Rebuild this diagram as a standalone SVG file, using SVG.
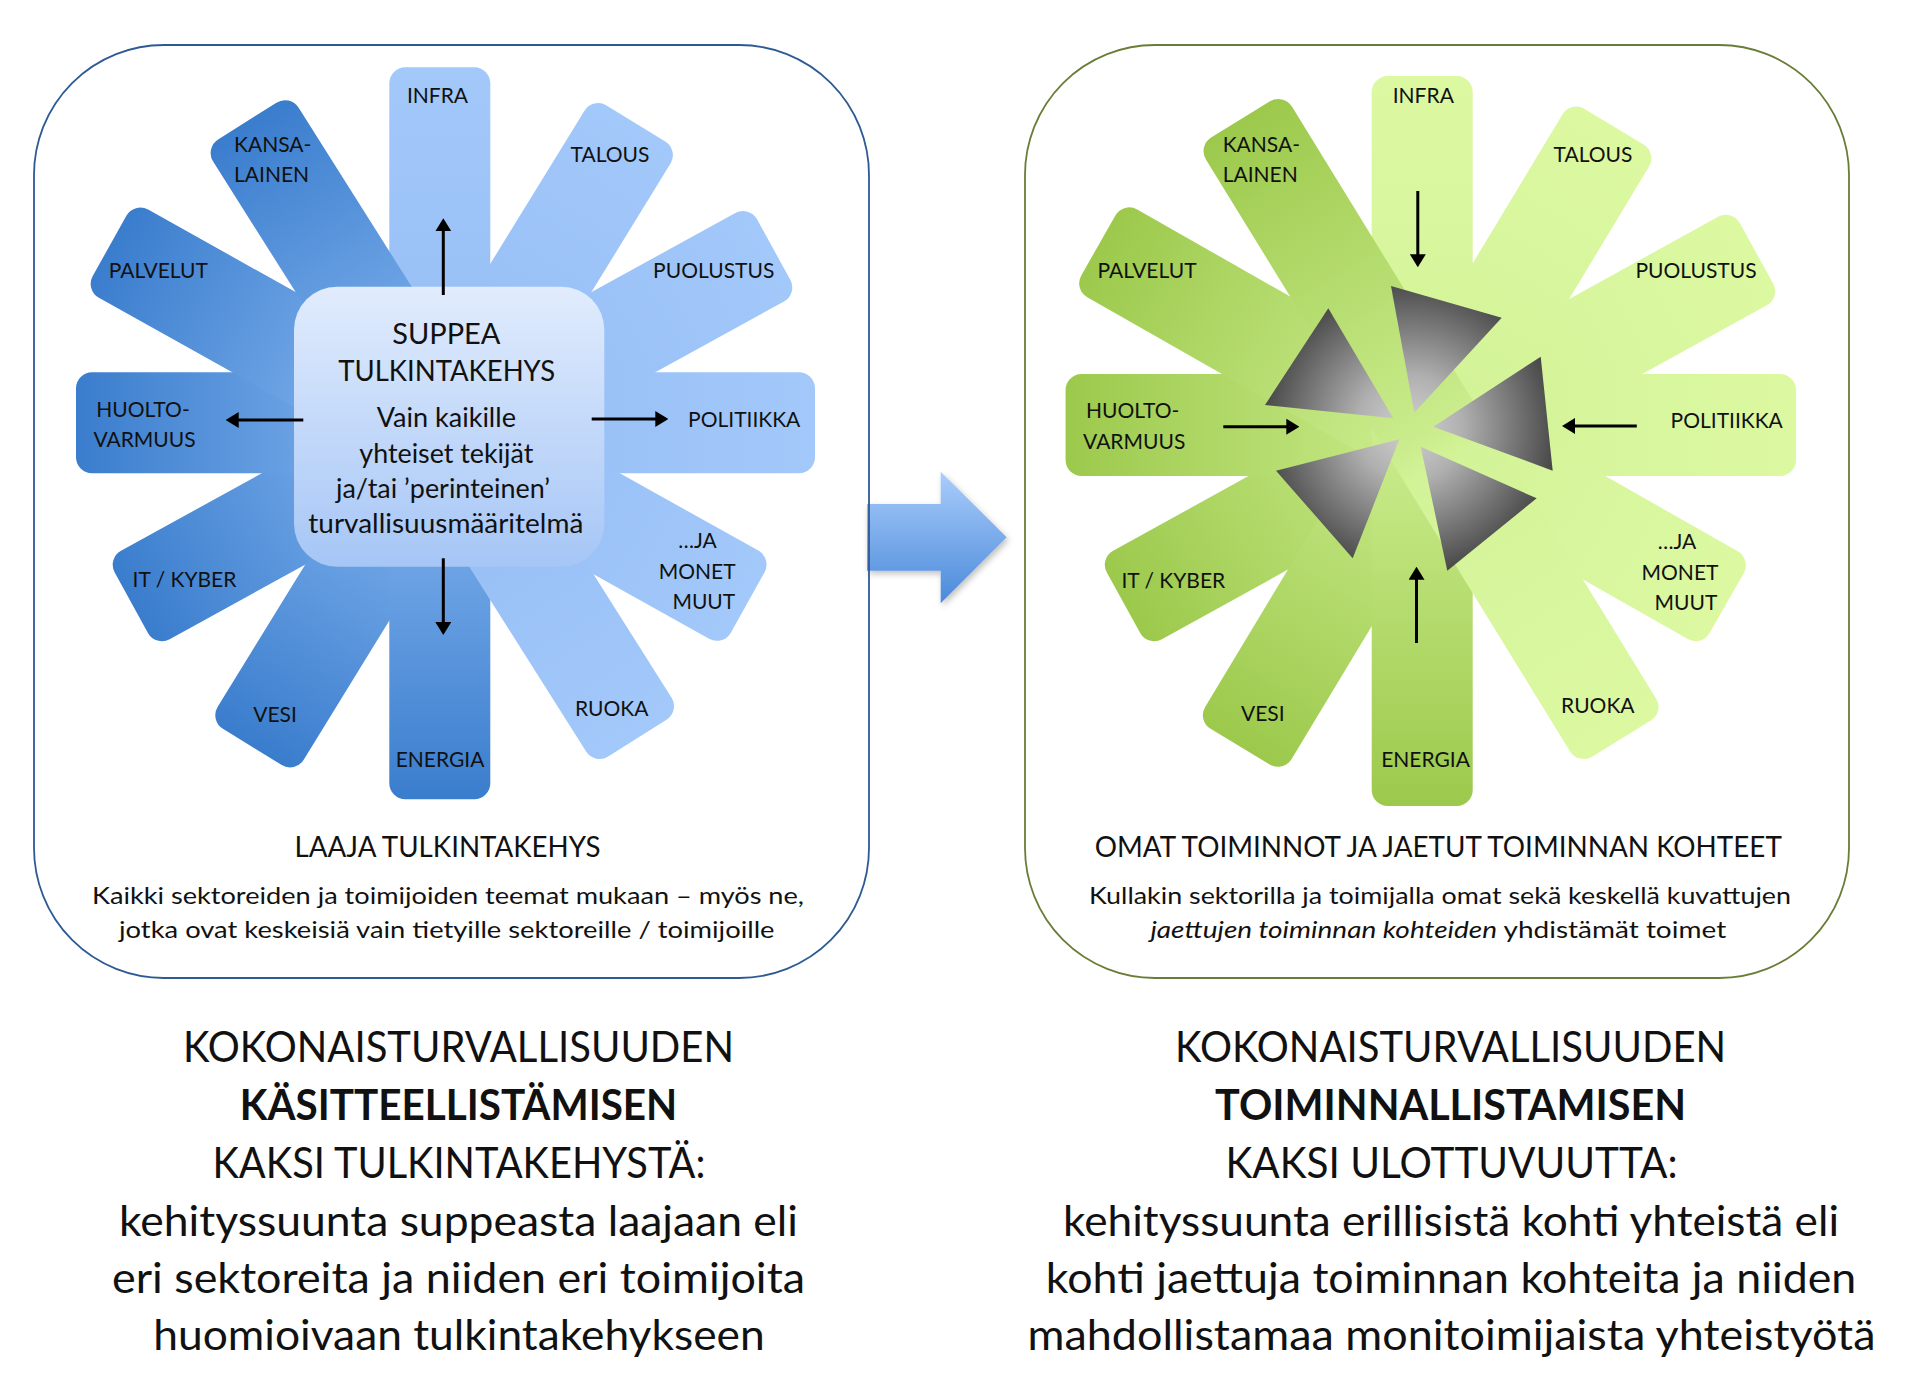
<svg xmlns="http://www.w3.org/2000/svg" width="1920" height="1399" viewBox="0 0 1920 1399">
<defs>
<style>
text{font-family:Lato,"Liberation Sans",sans-serif;fill:#111;text-anchor:middle}
.lb{font-size:21px}
.st{text-anchor:start}
.cb{font-size:26px}
.hd{font-size:29px}
.ds{font-size:23.5px}
.big{font-size:42px}
.bold{font-weight:bold}
.frame{fill:none;stroke-width:1.8}
.arr{stroke:#000;stroke-width:3;fill:none;marker-end:url(#ah)}
</style>
<linearGradient id="gb" x1="0" y1="0" x2="1" y2="0">
<stop offset="0" stop-color="#3a7dcd"/>
<stop offset="0.5" stop-color="#8ab9f2"/>
<stop offset="0.55" stop-color="#95bef5"/>
<stop offset="1" stop-color="#a3c8fa"/>
</linearGradient>
<linearGradient id="gg" x1="0" y1="0" x2="1" y2="0">
<stop offset="0" stop-color="#9cc94c"/>
<stop offset="0.5" stop-color="#caec8c"/>
<stop offset="0.55" stop-color="#d3f398"/>
<stop offset="1" stop-color="#dcf9a2"/>
</linearGradient>
<linearGradient id="gc" x1="0" y1="0" x2="0" y2="1">
<stop offset="0" stop-color="#e1ecfd"/>
<stop offset="1" stop-color="#a6c6f6"/>
</linearGradient>
<linearGradient id="ga" gradientUnits="userSpaceOnUse" x1="0" y1="471" x2="0" y2="604">
<stop offset="0" stop-color="#aacdfc"/>
<stop offset="1" stop-color="#4a8ad9"/>
</linearGradient>
<radialGradient id="gt" gradientUnits="userSpaceOnUse" cx="1410" cy="428" r="150">
<stop offset="0" stop-color="#d2d2d2"/>
<stop offset="0.35" stop-color="#b0b0b0"/>
<stop offset="1" stop-color="#454545"/>
</radialGradient>
<filter id="sh" x="-20%" y="-20%" width="150%" height="150%">
<feDropShadow dx="2" dy="3" stdDeviation="3" flood-color="#000" flood-opacity="0.25"/>
</filter>
<marker id="ah" markerUnits="userSpaceOnUse" markerWidth="13" markerHeight="16" viewBox="0 0 13 16" refX="1" refY="8" orient="auto">
<path d="M0,0 L13,8 L0,16 z" fill="#000"/>
</marker>
</defs>
<rect width="1920" height="1399" fill="#fff"/>

<!-- big arrow between panels -->
<g id="big-arrow">
<path d="M867,504 H940.7 V471.7 L1006.7,537.3 L940.7,603.3 V570.7 H867 Z" fill="url(#ga)" filter="url(#sh)"/>
</g>

<!-- LEFT PANEL -->
<g id="left-panel">
<rect class="frame" x="34" y="45" width="835" height="933" rx="130" stroke="#2e5a94"/>

<g id="l-itkyber-puolustus">
<rect x="-366.5" y="-50.5" width="733" height="101" rx="16" fill="url(#gb)" transform="translate(452.5 426.1) rotate(-28.8)"/>
<text class="lb" x="184.5" y="586.7">IT / KYBER</text>
<text class="lb" x="713.7" y="278.3">PUOLUSTUS</text>
</g>
<g id="l-huoltovarmuus-politiikka">
<rect x="-369.5" y="-50.5" width="739" height="101" rx="16" fill="url(#gb)" transform="translate(445.5 422.8)"/>
<text class="lb" x="143" y="416.7">HUOLTO-</text>
<text class="lb" x="144.5" y="447.3">VARMUUS</text>
<text class="lb" x="744.2" y="426.7">POLITIIKKA</text>
</g>
<g id="l-palvelut-muut">
<rect x="-365.5" y="-50.5" width="731" height="101" rx="16" fill="url(#gb)" transform="translate(428.6 424.2) rotate(29.2)"/>
<text class="lb" x="158.3" y="278.3">PALVELUT</text>
<text class="lb" x="697.5" y="548.3">…JA</text>
<text class="lb" x="697.2" y="579.3">MONET</text>
<text class="lb" x="703.8" y="609.3">MUUT</text>
</g>
<g id="l-vesi-talous">
<rect x="-366" y="-50.5" width="732" height="101" rx="16" fill="url(#gb)" transform="translate(444.1 435.2) rotate(-58.4)"/>
<text class="lb" x="275" y="721.7">VESI</text>
<text class="lb" x="610" y="161.7">TALOUS</text>
</g>
<g id="l-energia-infra">
<rect x="-366" y="-50.5" width="732" height="101" rx="16" fill="url(#gb)" transform="translate(439.8 433.2) rotate(-90)"/>
<text class="lb" x="440" y="766.7">ENERGIA</text>
<text class="lb" x="437.5" y="103.3">INFRA</text>
</g>
<g id="l-kansalainen-ruoka">
<rect x="-365" y="-50.5" width="730" height="101" rx="16" fill="url(#gb)" transform="translate(442.3 429.6) rotate(57.7)"/>
<text class="lb st" x="234" y="151.7">KANSA-</text>
<text class="lb st" x="234" y="181.7">LAINEN</text>
<text class="lb" x="611.7" y="716">RUOKA</text>
</g>

<g id="l-center">
<rect x="294" y="286.7" width="310.3" height="280" rx="43" fill="url(#gc)"/>
<text class="hd" x="446.3" y="343.5">SUPPEA</text>
<text class="hd" x="446.7" y="380.5" textLength="216.7" lengthAdjust="spacingAndGlyphs">TULKINTAKEHYS</text>
<text class="cb" x="446.3" y="427" textLength="139.3" lengthAdjust="spacingAndGlyphs">Vain kaikille</text>
<text class="cb" x="446.3" y="462.5" textLength="174" lengthAdjust="spacingAndGlyphs">yhteiset tekijät</text>
<text class="cb" x="443" y="498" textLength="214" lengthAdjust="spacingAndGlyphs">ja/tai ’perinteinen’</text>
<text class="cb" x="445.8" y="533" textLength="275" lengthAdjust="spacingAndGlyphs">turvallisuusmääritelmä</text>
</g>

<g id="l-caption">
<text class="hd" x="447.5" y="857" textLength="306" lengthAdjust="spacingAndGlyphs">LAAJA TULKINTAKEHYS</text>
<text class="ds" x="448" y="904" textLength="712" lengthAdjust="spacingAndGlyphs">Kaikki sektoreiden ja toimijoiden teemat mukaan – myös ne,</text>
<text class="ds" x="446.8" y="938" textLength="655.5" lengthAdjust="spacingAndGlyphs">jotka ovat keskeisiä vain tietyille sektoreille / toimijoille</text>
</g>
</g>

<!-- RIGHT PANEL -->
<g id="right-panel">
<rect class="frame" x="1025" y="45" width="824" height="933" rx="130" stroke="#6a7d36"/>

<g id="r-itkyber-puolustus">
<rect x="-361.5" y="-50.5" width="723" height="101" rx="16" fill="url(#gg)" transform="translate(1440 428) rotate(-28.9)"/>
<text class="lb" x="1173.3" y="588.3">IT / KYBER</text>
<text class="lb" x="1696" y="278.3">PUOLUSTUS</text>
</g>
<g id="r-huoltovarmuus-politiikka">
<rect x="-365.25" y="-51" width="730.5" height="102" rx="16" fill="url(#gg)" transform="translate(1430.8 425)"/>
<text class="lb" x="1132.7" y="418.3">HUOLTO-</text>
<text class="lb" x="1134.2" y="449.3">VARMUUS</text>
<text class="lb" x="1726.7" y="428">POLITIIKKA</text>
</g>
<g id="r-palvelut-muut">
<rect x="-361.5" y="-50.5" width="723" height="101" rx="16" fill="url(#gg)" transform="translate(1412.5 424.3) rotate(29.65)"/>
<text class="lb" x="1147" y="278.3">PALVELUT</text>
<text class="lb" x="1677" y="548.5">…JA</text>
<text class="lb" x="1680" y="579.5">MONET</text>
<text class="lb" x="1686" y="609.5">MUUT</text>
</g>
<g id="r-vesi-talous">
<rect x="-362" y="-50.5" width="724" height="101" rx="16" fill="url(#gg)" transform="translate(1427.1 436.7) rotate(-58.9)"/>
<text class="lb" x="1262.8" y="721">VESI</text>
<text class="lb" x="1593" y="161.7">TALOUS</text>
</g>
<g id="r-energia-infra">
<rect x="-365" y="-50.5" width="730" height="101" rx="16" fill="url(#gg)" transform="translate(1422.2 441) rotate(-90)"/>
<text class="lb" x="1425.5" y="766.7">ENERGIA</text>
<text class="lb" x="1423.3" y="103.3">INFRA</text>
</g>
<g id="r-kansalainen-ruoka">
<rect x="-363.5" y="-50.5" width="727" height="101" rx="16" fill="url(#gg)" transform="translate(1431 429) rotate(58.4)"/>
<text class="lb st" x="1222.7" y="151.7">KANSA-</text>
<text class="lb st" x="1222.7" y="181.7">LAINEN</text>
<text class="lb" x="1597.8" y="713.3">RUOKA</text>
</g>

<g id="r-shared-targets" fill="url(#gt)">
<polygon points="1391,286 1501.7,317.7 1414.3,412.7"/>
<polygon points="1328.3,308.3 1265,405 1393.3,418.3"/>
<polygon points="1540.7,356.7 1552.7,470.7 1433.3,426.7"/>
<polygon points="1276,470.7 1399.3,439.3 1352.7,558.3"/>
<polygon points="1420.7,446.7 1536.7,498.3 1447.3,570.7"/>
</g>

<g id="r-caption">
<text class="hd" x="1438.3" y="857" textLength="687" lengthAdjust="spacingAndGlyphs">OMAT TOIMINNOT JA JAETUT TOIMINNAN KOHTEET</text>
<text class="ds" x="1440" y="904" textLength="702" lengthAdjust="spacingAndGlyphs">Kullakin sektorilla ja toimijalla omat sekä keskellä kuvattujen</text>
<text class="ds" x="1438.3" y="938" textLength="575.8" lengthAdjust="spacingAndGlyphs"><tspan font-style="italic">jaettujen toiminnan kohteiden</tspan> yhdistämät toimet</text>
</g>
</g>

<!-- connectors -->
<g id="connectors">
<line class="arr" x1="443.3" y1="295" x2="443.3" y2="230.3"/>
<line class="arr" x1="303.3" y1="420" x2="237.7" y2="420"/>
<line class="arr" x1="591.7" y1="419" x2="656.3" y2="419"/>
<line class="arr" x1="443.3" y1="558.3" x2="443.3" y2="623"/>
<line class="arr" x1="1417.8" y1="191" x2="1417.8" y2="255.3"/>
<line class="arr" x1="1223.3" y1="426.7" x2="1287.3" y2="426.7"/>
<line class="arr" x1="1636.8" y1="426" x2="1574" y2="426"/>
<line class="arr" x1="1416.5" y1="643" x2="1416.5" y2="578.7"/>
</g>

<!-- bottom texts -->
<g id="left-title">
<text class="big" x="458.5" y="1062" textLength="551" lengthAdjust="spacingAndGlyphs">KOKONAISTURVALLISUUDEN</text>
<text class="big bold" x="458.5" y="1120" textLength="437.5" lengthAdjust="spacingAndGlyphs">KÄSITTEELLISTÄMISEN</text>
<text class="big" x="459" y="1178" textLength="493" lengthAdjust="spacingAndGlyphs">KAKSI TULKINTAKEHYSTÄ:</text>
<text class="big" x="458.5" y="1236" textLength="679" lengthAdjust="spacingAndGlyphs">kehityssuunta suppeasta laajaan eli</text>
<text class="big" x="458.5" y="1293" textLength="693" lengthAdjust="spacingAndGlyphs">eri sektoreita ja niiden eri toimijoita</text>
<text class="big" x="459" y="1350" textLength="611.4" lengthAdjust="spacingAndGlyphs">huomioivaan tulkintakehykseen</text>
</g>
<g id="right-title">
<text class="big" x="1450.6" y="1062" textLength="551" lengthAdjust="spacingAndGlyphs">KOKONAISTURVALLISUUDEN</text>
<text class="big bold" x="1450.6" y="1120" textLength="471" lengthAdjust="spacingAndGlyphs">TOIMINNALLISTAMISEN</text>
<text class="big" x="1451.5" y="1178" textLength="452" lengthAdjust="spacingAndGlyphs">KAKSI ULOTTUVUUTTA:</text>
<text class="big" x="1451" y="1236" textLength="776" lengthAdjust="spacingAndGlyphs">kehityssuunta erillisistä kohti yhteistä eli</text>
<text class="big" x="1451" y="1293" textLength="810.5" lengthAdjust="spacingAndGlyphs">kohti jaettuja toiminnan kohteita ja niiden</text>
<text class="big" x="1451.5" y="1350" textLength="848" lengthAdjust="spacingAndGlyphs">mahdollistamaa monitoimijaista yhteistyötä</text>
</g>
</svg>
